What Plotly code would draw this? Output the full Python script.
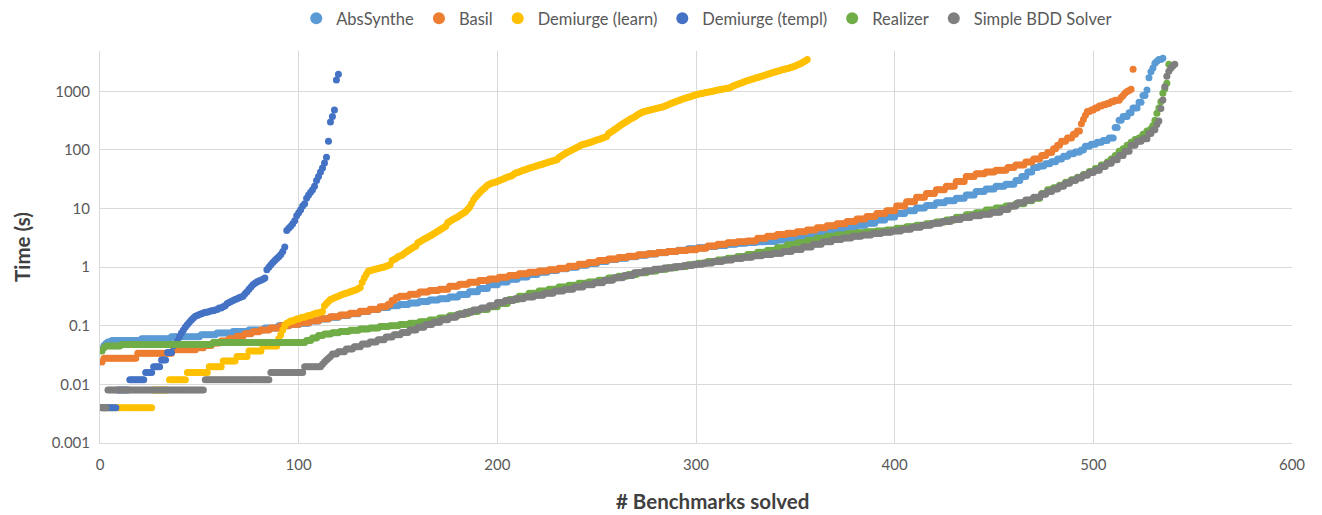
import plotly.graph_objects as go

# Solving time (s) of each solved benchmark, sorted ascending.
# Each entry is (time, number of consecutive benchmarks with that time).
abssynthe_runs = [
    (0.04, 1), (0.046, 1), (0.05, 1), (0.053, 2), (0.056, 15), (0.06, 15), (0.065, 15),
    (0.07, 8), (0.075, 8), (0.08, 8), (0.085, 8), (0.092, 7), (0.1, 6),
    (0.105, 5), (0.11, 5), (0.12, 5), (0.13, 5), (0.14, 5), (0.15, 5), (0.16, 5), (0.175, 5),
    (0.19, 5), (0.205, 5), (0.22, 5), (0.23, 5), (0.245, 5), (0.26, 5), (0.275, 5), (0.29, 5),
    (0.31, 5), (0.34, 5), (0.38, 5), (0.43, 5), (0.5, 5), (0.56, 5), (0.62, 5), (0.68, 5),
    (0.75, 5), (0.82, 5), (0.88, 5), (0.94, 5), (1.0, 5), (1.08, 5), (1.15, 5), (1.25, 5),
    (1.35, 5), (1.42, 5), (1.5, 5), (1.6, 5), (1.68, 5), (1.76, 5), (1.85, 5), (1.95, 5),
    (2.05, 5), (2.15, 5), (2.25, 5), (2.35, 5), (2.45, 5), (2.55, 5), (2.62, 5), (2.7, 5),
    (2.75, 5), (2.9, 5), (3.1, 5), (3.35, 5), (3.6, 5), (3.85, 5), (4.2, 5), (4.5, 5),
    (4.8, 5), (5.2, 5), (5.6, 5), (6.4, 5), (7.2, 5), (8.2, 5), (9.2, 5), (10.2, 5),
    (11.3, 5), (12.5, 5), (13.5, 5), (15, 5), (17, 5), (19.5, 5), (21.5, 5), (24, 5), (26, 5),
    (30, 3), (35, 3), (42, 3), (50, 3), (53, 3), (58, 3), (63, 3), (70, 3), (78, 3), (86, 3),
    (92, 3), (100, 2), (115, 3), (125, 3), (135, 3), (145, 3), (160, 3), (240, 2), (320, 2),
    (370, 3), (430, 2), (520, 3), (650, 2), (850, 2), (1050, 1), (1700, 1), (2160, 1),
    (2500, 1), (3000, 1), (3250, 1), (3500, 2), (3650, 1),
]

basil_runs = [
    (0.024, 1), (0.028, 17), (0.034, 18), (0.039, 12), (0.042, 4), (0.046, 4), (0.051, 4),
    (0.055, 4), (0.06, 4), (0.066, 4), (0.073, 4), (0.079, 4), (0.085, 5), (0.092, 5),
    (0.1, 5), (0.106, 5), (0.113, 5), (0.122, 5), (0.132, 5), (0.142, 5), (0.152, 5),
    (0.163, 5), (0.177, 5), (0.192, 5), (0.21, 4), (0.23, 2), (0.27, 2), (0.3, 2),
    (0.32, 5), (0.345, 5), (0.375, 5), (0.4, 5), (0.42, 5), (0.47, 5), (0.51, 5), (0.55, 5),
    (0.59, 5), (0.63, 5), (0.67, 5), (0.72, 5), (0.77, 5), (0.82, 5), (0.86, 5), (0.9, 5),
    (0.96, 5), (1.04, 5), (1.12, 5), (1.2, 5), (1.3, 5), (1.38, 5), (1.46, 5), (1.54, 5),
    (1.62, 5), (1.7, 5), (1.78, 5), (1.85, 5), (1.92, 5), (1.98, 5), (2.1, 5), (2.3, 5),
    (2.45, 5), (2.6, 5), (2.7, 5), (2.8, 5), (3.1, 5), (3.35, 5), (3.6, 5), (3.8, 5),
    (4.0, 5), (4.3, 5), (4.7, 5), (5.1, 5), (5.5, 5), (6.0, 5), (6.6, 5), (7.3, 5),
    (8.2, 5), (9.2, 5), (11, 5), (13, 5), (15.5, 5), (18, 5), (21, 5), (24, 5), (29, 5),
    (35, 5), (39, 5), (42, 5), (45, 6), (50, 4), (55, 5), (62, 4), (70, 4), (80, 3),
    (90, 3), (105, 2), (120, 2), (140, 3), (160, 3), (185, 2), (210, 2), (280, 1), (330, 1),
    (390, 1), (450, 2), (480, 2), (520, 2), (560, 2), (590, 2), (620, 2), (660, 2),
    (700, 3), (780, 1), (850, 1), (930, 1), (990, 1), (1030, 1), (1080, 1), (2370, 1),
]

demiurge_learn_runs = [
    (0.004, 26), (0.008, 8), (0.012, 9), (0.016, 11), (0.02, 7), (0.025, 7), (0.03, 6),
    (0.037, 7), (0.045, 8), (0.06, 1), (0.07, 1), (0.085, 1), (0.1, 1), (0.11, 1),
    (0.115, 1), (0.12, 2), (0.125, 1), (0.13, 2), (0.135, 1), (0.14, 2), (0.145, 1),
    (0.15, 2), (0.155, 1), (0.16, 1), (0.165, 2), (0.17, 1), (0.175, 1),
    (0.22, 1), (0.24, 1), (0.26, 1), (0.28, 1), (0.29, 1), (0.3, 1), (0.31, 1), (0.32, 1),
    (0.33, 1), (0.34, 1), (0.35, 1), (0.36, 1), (0.37, 1), (0.38, 1), (0.39, 1), (0.4, 1),
    (0.41, 1), (0.43, 1), (0.45, 1), (0.55, 1), (0.65, 1), (0.75, 1), (0.85, 1),
    (0.87, 1), (0.89, 1), (0.91, 1), (0.93, 1), (0.95, 1), (0.97, 1), (0.99, 1), (1.01, 1),
    (1.04, 1), (1.07, 1), (1.1, 1), (1.3, 1), (1.35, 1), (1.4, 1), (1.5, 1), (1.55, 1),
    (1.6, 1), (1.7, 1), (1.8, 1), (1.9, 1), (2.0, 1), (2.1, 1), (2.2, 1), (2.3, 1),
    (2.6, 1), (2.7, 1), (2.85, 1), (3.0, 1), (3.1, 1), (3.25, 1), (3.4, 1), (3.55, 1),
    (3.7, 1), (3.9, 1), (4.1, 1), (4.3, 1), (4.5, 1), (4.75, 1), (5.0, 1),
    (5.7, 1), (6.0, 1), (6.3, 1), (6.6, 1), (6.9, 1), (7.2, 1), (7.6, 1), (8.0, 1),
    (8.4, 1), (8.8, 1), (9.6, 1), (10.5, 1), (12, 1), (14, 1), (15.5, 1), (17, 1),
    (18.5, 1), (20, 1), (21.5, 1), (23, 1), (25, 1), (26, 1), (27, 1), (27.5, 1), (28, 1),
    (29, 1), (30, 1), (31, 1), (32, 1), (33, 1), (34, 1), (35, 1), (36, 1), (37.5, 1),
    (40, 1), (41, 1), (42, 1), (43.5, 1), (45, 1), (46, 1), (47, 1), (48.5, 1), (50, 1),
    (51, 1), (52, 1), (53.5, 1), (55, 1), (56, 1), (57.5, 1), (59, 1), (60.5, 1), (62, 1),
    (63.5, 1), (65, 1), (66.5, 1), (68, 1), (74, 1), (78, 1), (82, 1), (86, 1), (90, 1),
    (94, 1), (98, 1), (102, 1), (106, 1), (110, 1), (114, 1), (120, 1), (123, 1), (126, 1),
    (129, 1), (132, 1), (135, 1), (139, 1), (143, 1), (147, 1), (151, 1), (155, 1),
    (159, 1), (164, 1), (169, 1), (190, 1), (200, 1), (210, 1), (222, 1), (235, 1),
    (248, 1), (262, 1), (276, 1), (290, 1), (305, 1), (320, 1), (335, 1), (350, 1),
    (365, 1), (385, 1), (405, 1), (422, 1), (440, 1), (450, 1), (460, 1), (470, 1),
    (480, 1), (490, 1), (500, 1), (510, 1), (520, 1), (530, 1), (540, 1), (550, 1),
    (570, 1), (590, 1), (610, 1), (630, 1), (650, 1), (670, 1), (690, 1), (710, 1),
    (730, 1), (750, 1), (770, 1), (790, 1), (810, 1), (830, 1), (850, 1), (870, 1),
    (890, 1), (905, 1), (920, 1), (935, 1), (950, 1), (965, 1), (980, 1), (995, 1),
    (1010, 1), (1030, 1), (1050, 1), (1065, 1), (1080, 1), (1095, 1), (1110, 1), (1130, 1),
    (1150, 1), (1200, 1), (1240, 1), (1280, 1), (1320, 1), (1360, 1), (1400, 1), (1440, 1),
    (1480, 1), (1520, 1), (1560, 1), (1600, 1), (1640, 1), (1680, 1), (1720, 1), (1760, 1),
    (1800, 1), (1840, 1), (1900, 1), (1950, 1), (2000, 1), (2050, 1), (2100, 1), (2150, 1),
    (2200, 1), (2250, 1), (2300, 1), (2350, 1), (2400, 1), (2450, 1), (2500, 1), (2560, 1),
    (2620, 1), (2700, 1), (2800, 1), (2900, 1), (3000, 1), (3150, 1), (3300, 1), (3500, 1),
]

demiurge_templ_runs = [
    (0.004, 8), (0.008, 6), (0.012, 8), (0.016, 4), (0.02, 4), (0.026, 3), (0.035, 3),
    (0.045, 1), (0.05, 1), (0.055, 1), (0.065, 1), (0.075, 1), (0.085, 1), (0.095, 1),
    (0.105, 1), (0.115, 1), (0.125, 1), (0.135, 1), (0.145, 1), (0.15, 1), (0.155, 1),
    (0.16, 1), (0.165, 1), (0.17, 2), (0.175, 1), (0.18, 2), (0.185, 1), (0.19, 1),
    (0.2, 2), (0.21, 1), (0.22, 1), (0.24, 1), (0.25, 1), (0.26, 1), (0.27, 1), (0.28, 1),
    (0.29, 1), (0.3, 1), (0.31, 1), (0.32, 1), (0.35, 1), (0.38, 1), (0.42, 1), (0.46, 1),
    (0.5, 1), (0.53, 1), (0.56, 1), (0.58, 1), (0.6, 1), (0.62, 1), (0.65, 1), (0.9, 1),
    (1.0, 1), (1.1, 1), (1.2, 1), (1.3, 1), (1.4, 1), (1.5, 1), (1.65, 1), (1.85, 1),
    (2.2, 1), (4.2, 1), (4.6, 1), (5.0, 1), (5.5, 1), (6.2, 1), (7.5, 1), (8.5, 1),
    (9.5, 1), (11, 1), (12, 1), (15, 1), (17, 1), (19, 1), (21, 1), (24, 1), (30, 1),
    (35, 1), (42, 1), (49, 1), (60, 1), (75, 1), (140, 1), (300, 1), (370, 1), (480, 1),
    (1550, 1), (1950, 1),
]

realizer_runs = [
    (0.037, 1), (0.042, 1), (0.045, 8), (0.048, 46), (0.052, 47), (0.056, 3), (0.062, 3),
    (0.068, 3), (0.072, 4), (0.076, 4), (0.08, 5), (0.084, 5), (0.088, 5), (0.092, 5),
    (0.097, 5), (0.1, 5), (0.105, 5), (0.11, 5), (0.117, 5), (0.125, 5), (0.135, 5),
    (0.148, 5), (0.16, 5), (0.175, 5), (0.19, 5), (0.21, 5), (0.24, 5), (0.28, 5),
    (0.32, 5), (0.36, 5), (0.39, 5), (0.42, 5), (0.46, 5), (0.49, 5), (0.53, 5), (0.56, 5),
    (0.6, 5), (0.65, 5), (0.7, 5), (0.75, 5), (0.8, 5), (0.86, 5), (0.92, 5), (0.98, 5),
    (1.03, 5), (1.1, 5), (1.17, 5), (1.25, 5), (1.33, 5), (1.42, 5), (1.52, 5), (1.65, 5),
    (1.8, 5), (1.95, 5), (2.15, 5), (2.4, 5), (2.6, 5), (2.85, 5), (3.1, 5), (3.35, 5),
    (3.55, 5), (3.7, 5), (3.85, 5), (4.0, 5), (4.15, 5), (4.3, 5), (4.6, 5), (4.9, 5),
    (5.2, 5), (5.5, 5), (5.9, 5), (6.4, 5), (7.1, 5), (7.8, 5), (8.5, 5), (9.4, 5),
    (10.2, 5), (11, 5), (12, 5), (13.5, 4), (15, 4), (18, 3), (21, 3), (22.5, 3), (25, 3),
    (28, 3), (31, 3), (34, 3), (38, 3), (43, 3), (48, 3), (55, 3), (62, 2), (70, 2),
    (80, 2), (95, 2), (105, 2), (120, 2), (135, 2), (150, 2), (160, 2), (185, 2), (210, 2),
    (230, 1), (260, 1), (320, 1), (420, 1), (520, 1), (665, 1), (925, 1), (1100, 1),
    (1370, 1), (2900, 1),
]

simple_bdd_runs = [
    (0.004, 3), (0.008, 49), (0.012, 33), (0.016, 17), (0.02, 9), (0.022, 1), (0.024, 1),
    (0.026, 1), (0.028, 1), (0.03, 1), (0.033, 3), (0.036, 4), (0.04, 4), (0.044, 4),
    (0.049, 4), (0.053, 4), (0.058, 4), (0.064, 4), (0.07, 4), (0.077, 4), (0.085, 4),
    (0.094, 4), (0.105, 4), (0.115, 4), (0.127, 4), (0.14, 4), (0.155, 4), (0.17, 4),
    (0.185, 4), (0.2, 4), (0.22, 4), (0.25, 4), (0.27, 5), (0.29, 5), (0.31, 5), (0.33, 5),
    (0.36, 5), (0.39, 5), (0.42, 5), (0.46, 5), (0.5, 5), (0.54, 5), (0.6, 5), (0.66, 5),
    (0.72, 5), (0.8, 5), (0.86, 5), (0.92, 5), (0.97, 5), (1.02, 5), (1.07, 5), (1.12, 5),
    (1.18, 5), (1.25, 5), (1.32, 5), (1.4, 5), (1.48, 5), (1.56, 5), (1.64, 5), (1.72, 5),
    (1.85, 5), (2.0, 5), (2.2, 5), (2.45, 5), (2.7, 5), (2.95, 5), (3.15, 5), (3.35, 5),
    (3.55, 5), (3.75, 5), (3.95, 5), (4.15, 5), (4.45, 5), (4.8, 5), (5.2, 5), (5.6, 5),
    (6.0, 5), (6.5, 5), (7.0, 5), (7.5, 5), (8.0, 5), (8.6, 5), (9.6, 4), (11, 4),
    (12.5, 4), (14, 4), (15.5, 4), (17.5, 3), (19.5, 3), (21.5, 3), (24, 3), (27, 3),
    (30, 3), (33, 3), (37, 3), (41, 3), (45, 3), (52, 3), (59, 3), (68, 3), (80, 3),
    (95, 3), (120, 3), (140, 3), (155, 3), (190, 2), (220, 2), (270, 1), (310, 1),
    (510, 1), (710, 1), (1200, 1), (1800, 1), (2200, 1), (2460, 1), (2700, 1), (2900, 1),
]

solver_names = ["AbsSynthe", "Basil", "Demiurge (learn)", "Demiurge (templ)",
                "Realizer", "Simple BDD Solver"]
solver_colors = ["#5B9BD5", "#ED7D31", "#FFC000", "#4472C4", "#70AD47", "#7F7F7F"]

y_tick_vals = [0.001, 0.01, 0.1, 1, 10, 100, 1000]
y_tick_text = ["0.001", "0.01", "0.1", "1", "10", "100", "1000"]


def expand(runs):
    times = []
    for t, count in runs:
        times.extend([t] * count)
    return times


all_runs = [abssynthe_runs, basil_runs, demiurge_learn_runs, demiurge_templ_runs,
            realizer_runs, simple_bdd_runs]

fig = go.Figure()
for name, color, runs in zip(solver_names, solver_colors, all_runs):
    times = expand(runs)
    fig.add_trace(go.Scatter(
        x=list(range(1, len(times) + 1)),
        y=times,
        mode="markers",
        name=name,
        marker=dict(color=color, size=7, line=dict(width=0)),
    ))

font_family = "Lato, Carlito, sans-serif"
tick_font = dict(family=font_family, size=15, color="#595959")
legend_font = dict(family=font_family, size=16.5, color="#595959")
title_font = dict(family=font_family, size=20.5, color="#404040")

fig.update_layout(
    width=1322,
    height=515,
    margin=dict(l=100, r=30, t=51, b=72, autoexpand=False),
    paper_bgcolor="white",
    plot_bgcolor="white",
    font=tick_font,
    showlegend=True,
    legend=dict(
        orientation="h",
        x=0.509, xanchor="center",
        y=0.998, yanchor="top",
        yref="container",
        font=legend_font,
        itemsizing="constant",
        itemwidth=30,
        tracegroupgap=0,
    ),
    xaxis=dict(
        range=[0, 600],
        dtick=100,
        tick0=0,
        showgrid=True,
        gridcolor="#D9D9D9",
        gridwidth=1,
        showline=True,
        linecolor="#D9D9D9",
        zeroline=False,
        ticks="",
        ticklabelstandoff=8,
        tickfont=tick_font,
        automargin=False,
    ),
    yaxis=dict(
        type="log",
        range=[-3, 3.687],
        tickvals=y_tick_vals,
        ticktext=y_tick_text,
        showgrid=True,
        gridcolor="#D9D9D9",
        gridwidth=1,
        showline=True,
        linecolor="#D9D9D9",
        zeroline=False,
        ticks="",
        ticklabelstandoff=6,
        tickfont=tick_font,
        automargin=False,
        title=dict(text="<b>Time (s)</b>", font=title_font, standoff=15),
    ),
    annotations=[
        dict(
            text="<b># Benchmarks solved</b>",
            xref="paper", yref="paper",
            x=0.514, y=-0.147,
            xanchor="center", yanchor="middle",
            showarrow=False,
            font=title_font,
        ),
    ],
)

fig.write_html("out.html")
